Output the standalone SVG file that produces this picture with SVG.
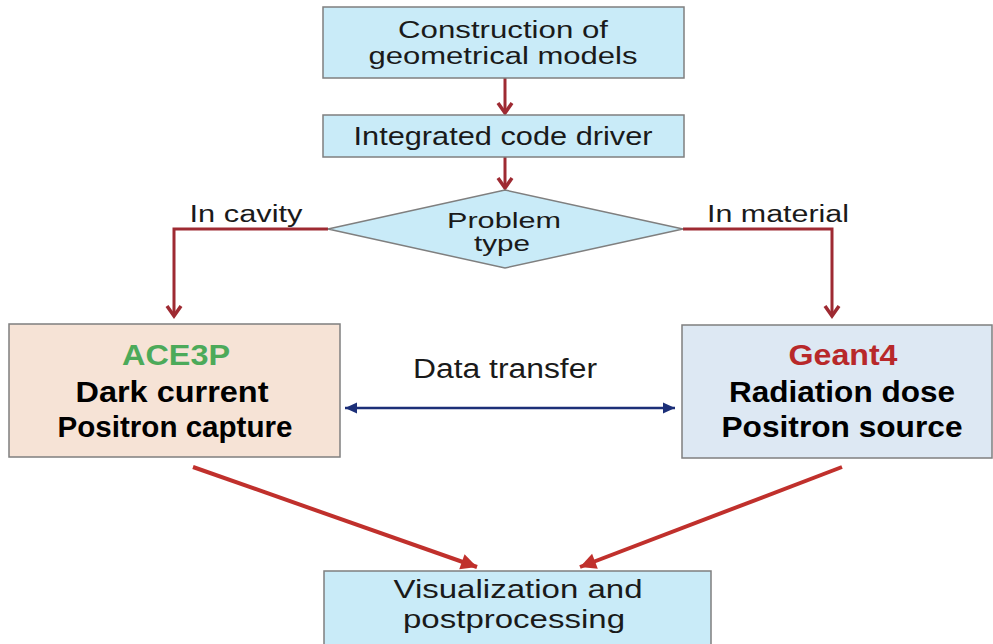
<svg xmlns="http://www.w3.org/2000/svg" width="993" height="644" viewBox="0 0 993 644">
<defs>
<style>
.box{stroke:#7f7f7f;stroke-width:1.5}
.blue{fill:#c9ebf8}
.t{font-family:"Liberation Sans",Arial,sans-serif;fill:#1a1a1a;text-anchor:middle}
.r{font-size:26px}
.r2{font-size:23px}
.b{font-size:29px;font-weight:bold;fill:#000}
.lbl{font-size:23px}
.maroon{stroke:#9e2a32;stroke-width:3;fill:none}
.red{stroke:#c0302c;stroke-width:4;fill:none}
.navy{stroke:#1c2f78;stroke-width:2.5;fill:none}
</style>
<marker id="chev" markerUnits="userSpaceOnUse" markerWidth="30" markerHeight="30" refX="15" refY="15" orient="auto" viewBox="0 0 30 30" overflow="visible">
<path d="M5,8 L15,15 L5,22" fill="none" stroke="#9e2a32" stroke-width="3.5" stroke-linejoin="miter"/>
</marker>
<marker id="redhead" markerUnits="userSpaceOnUse" markerWidth="30" markerHeight="30" refX="15" refY="15" orient="auto" viewBox="0 0 30 30" overflow="visible">
<path d="M-1,7 L15,15 L-1,23 Z" fill="#c0302c"/>
</marker>
<marker id="navyhead" markerUnits="userSpaceOnUse" markerWidth="30" markerHeight="30" refX="15" refY="15" orient="auto-start-reverse" viewBox="0 0 30 30" overflow="visible">
<path d="M3,9.5 L15,15 L3,20.5 Z" fill="#1c2f78"/>
</marker>
</defs>
<rect width="993" height="644" fill="#ffffff"/>

<g id="connectors">
<line class="maroon" x1="505" y1="78" x2="505" y2="113" marker-end="url(#chev)"/>
<line class="maroon" x1="505" y1="157" x2="505" y2="188" marker-end="url(#chev)"/>
<polyline class="maroon" points="328,229 174,229 174,316" marker-end="url(#chev)"/>
<polyline class="maroon" points="683,229 832,229 832,316" marker-end="url(#chev)"/>
<line class="navy" x1="345" y1="408" x2="675" y2="408" marker-start="url(#navyhead)" marker-end="url(#navyhead)"/>
<line class="red" x1="193" y1="467" x2="477" y2="567" marker-end="url(#redhead)"/>
<line class="red" x1="842" y1="467" x2="580" y2="567" marker-end="url(#redhead)"/>
<text class="t lbl" x="246" y="222" textLength="113" lengthAdjust="spacingAndGlyphs">In cavity</text>
<text class="t lbl" x="778" y="222" textLength="142" lengthAdjust="spacingAndGlyphs">In material</text>
<text class="t" style="font-size:27px" x="505" y="378" textLength="184" lengthAdjust="spacingAndGlyphs">Data transfer</text>
</g>

<g id="construction">
<rect class="box blue" x="323" y="7" width="361" height="71"/>
<text class="t r2" x="503" y="38" textLength="210" lengthAdjust="spacingAndGlyphs">Construction of</text>
<text class="t r2" x="503" y="64" textLength="269" lengthAdjust="spacingAndGlyphs">geometrical models</text>
</g>

<g id="driver">
<rect class="box blue" x="323" y="115" width="361" height="42"/>
<text class="t r" x="503" y="145" textLength="299" lengthAdjust="spacingAndGlyphs">Integrated code driver</text>
</g>

<g id="problem">
<polygon class="box blue" points="505,190 683,229 505,268 328,229"/>
<text class="t" style="font-size:22px" x="504" y="228" textLength="114" lengthAdjust="spacingAndGlyphs">Problem</text>
<text class="t" style="font-size:22px" x="502" y="251" textLength="56" lengthAdjust="spacingAndGlyphs">type</text>
</g>

<g id="ace3p">
<rect class="box" x="9" y="324" width="331" height="133" fill="#f6e3d6"/>
<text class="t b" x="176" y="365" style="fill:#4caa5a" textLength="108" lengthAdjust="spacingAndGlyphs">ACE3P</text>
<text class="t b" x="172" y="402" textLength="193" lengthAdjust="spacingAndGlyphs">Dark current</text>
<text class="t b" x="175" y="437" textLength="235" lengthAdjust="spacingAndGlyphs">Positron capture</text>
</g>

<g id="geant4">
<rect class="box" x="682" y="325" width="310" height="133" fill="#dde8f3"/>
<text class="t b" x="843" y="365" style="fill:#b8282a" textLength="109" lengthAdjust="spacingAndGlyphs">Geant4</text>
<text class="t b" x="842" y="402" textLength="226" lengthAdjust="spacingAndGlyphs">Radiation dose</text>
<text class="t b" x="842" y="437" textLength="241" lengthAdjust="spacingAndGlyphs">Positron source</text>
</g>

<g id="visualization">
<rect class="box blue" x="324" y="571" width="387" height="80"/>
<text class="t r" x="518" y="598" textLength="249" lengthAdjust="spacingAndGlyphs">Visualization and</text>
<text class="t r" x="514" y="628" textLength="222" lengthAdjust="spacingAndGlyphs">postprocessing</text>
</g>
</svg>
